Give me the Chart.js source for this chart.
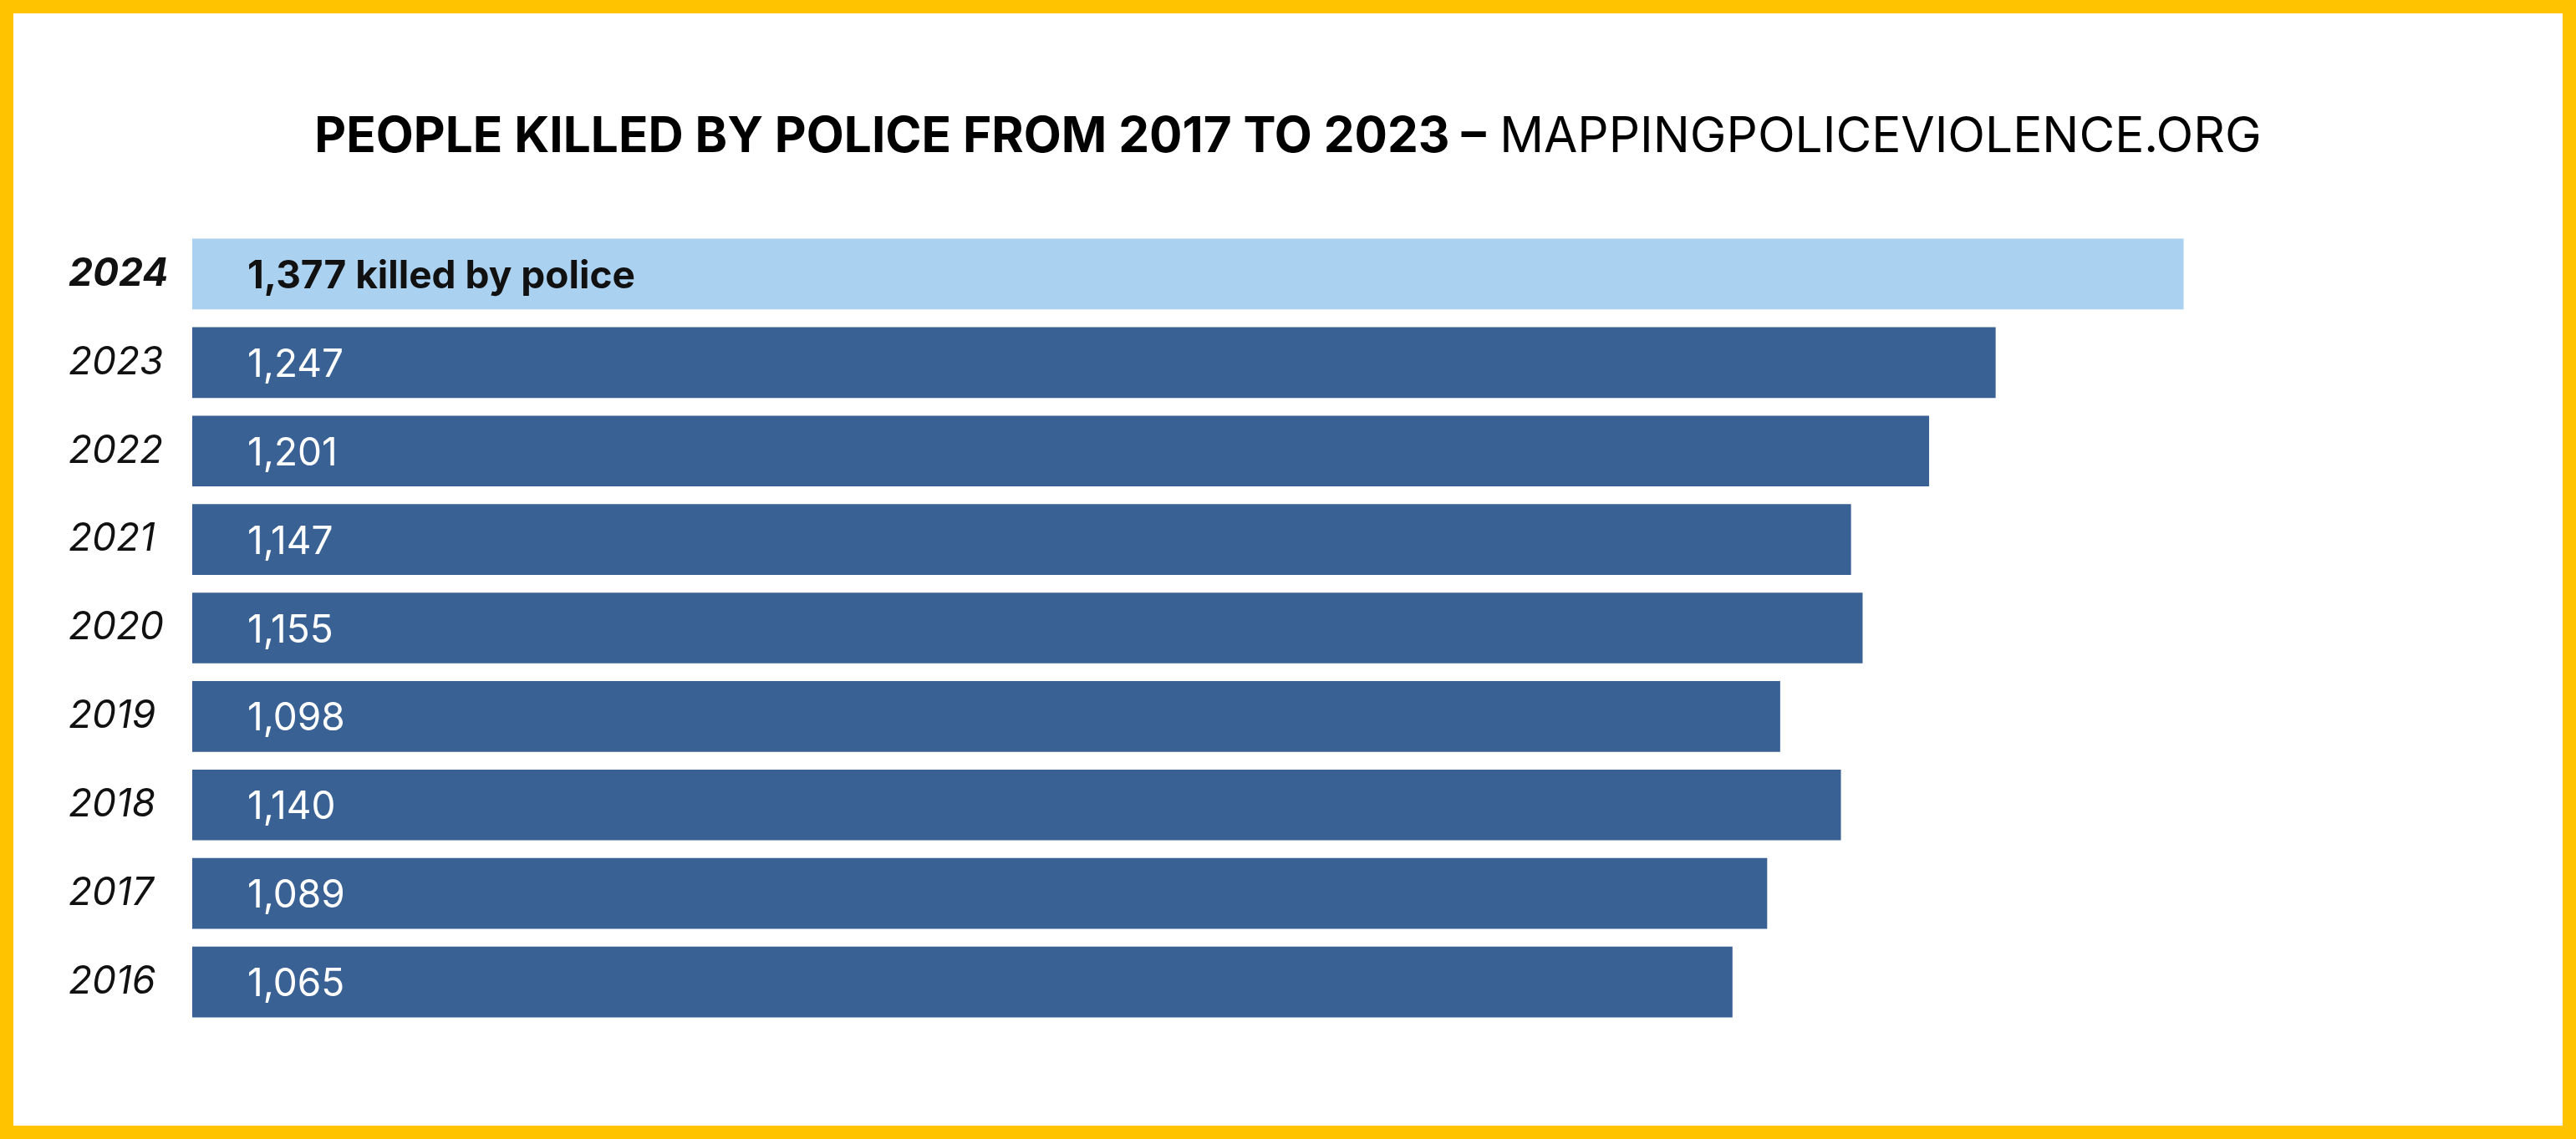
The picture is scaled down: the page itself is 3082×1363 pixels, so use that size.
<!DOCTYPE html>
<html>
<head>
<meta charset="utf-8">
<script src="https://cdn.jsdelivr.net/npm/chart.js@4.4.1/dist/chart.umd.min.js"></script>
<style>
    html, body { margin: 0; padding: 0; background: #fff; }
    .frame {
        position: relative;
        width: 3082px;
        height: 1363px;
        overflow: hidden;
    }
    .frame canvas { position: absolute; left: 0; top: 0; }
    .border {
        position: absolute;
        inset: 0;
        border: 16px solid #FFC300;
        pointer-events: none;
    }
    .title {
        position: absolute;
        left: 0;
        right: 0;
        top: 132px;
        text-align: center;
        font-family: Inter, 'Noto Sans', sans-serif;
        font-size: 58.5px;
        line-height: 58px;
        color: #000;
        white-space: nowrap;
    }
    .title b { font-weight: 700; }
    .title span { font-weight: 400; }
</style>
</head>
<body>
<div class="frame">
    <canvas id="mainChart" width="3082" height="1363"></canvas>
    <div class="title"><b>PEOPLE KILLED BY POLICE FROM 2017 TO 2023 –</b> <span>MAPPINGPOLICEVIOLENCE.ORG</span></div>
    <div class="border"></div>
</div>
<script>
// Chart data
const years = ['2024', '2023', '2022', '2021', '2020', '2019', '2018', '2017', '2016'];
const killed = [1377, 1247, 1201, 1147, 1155, 1098, 1140, 1089, 1065];
const barColors = ['#ABD1F0', '#3A6194', '#3A6194', '#3A6194', '#3A6194', '#3A6194', '#3A6194', '#3A6194', '#3A6194'];
const labelSuffix = [' killed by police', '', '', '', '', '', '', '', ''];

// Draw the value text inside each bar
const barLabels = {
    id: 'barLabels',
    afterDatasetsDraw(chart) {
        const ctx = chart.ctx;
        const meta = chart.getDatasetMeta(0);
        ctx.save();
        ctx.textAlign = 'left';
        ctx.textBaseline = 'alphabetic';
        meta.data.forEach((bar, i) => {
            const text = killed[i].toLocaleString('en-US') + labelSuffix[i];
            const highlight = i === 0;
            ctx.font = (highlight ? '700 ' : '400 ') + '46px Inter, sans-serif';
            ctx.fillStyle = highlight ? '#111111' : '#ffffff';
            ctx.fillText(text, bar.base + 66, bar.y + 17);
        });
        ctx.restore();
    }
};

new Chart(document.getElementById('mainChart'), {
    type: 'bar',
    data: {
        labels: years,
        datasets: [{
            data: killed,
            backgroundColor: barColors,
            borderWidth: 0,
            barThickness: 84
        }]
    },
    options: {
        indexAxis: 'y',
        responsive: false,
        devicePixelRatio: 1,
        animation: false,
        layout: {
            padding: { left: 82, right: 84, top: 275, bottom: 135 }
        },
        plugins: {
            legend: { display: false },
            tooltip: { enabled: false }
        },
        scales: {
            x: {
                display: false,
                min: 0,
                max: 1600
            },
            y: {
                grid: { display: false },
                border: { display: false },
                afterFit(scale) { scale.width = 148; },
                ticks: {
                    crossAlign: 'far',
                    color: '#111111',
                    font: ctx => ({
                        family: 'Inter, sans-serif',
                        size: 46,
                        style: 'italic',
                        weight: ctx.index === 0 ? 'bold' : 'normal'
                    })
                }
            }
        }
    },
    plugins: [barLabels]
});
</script>
</body>
</html>
